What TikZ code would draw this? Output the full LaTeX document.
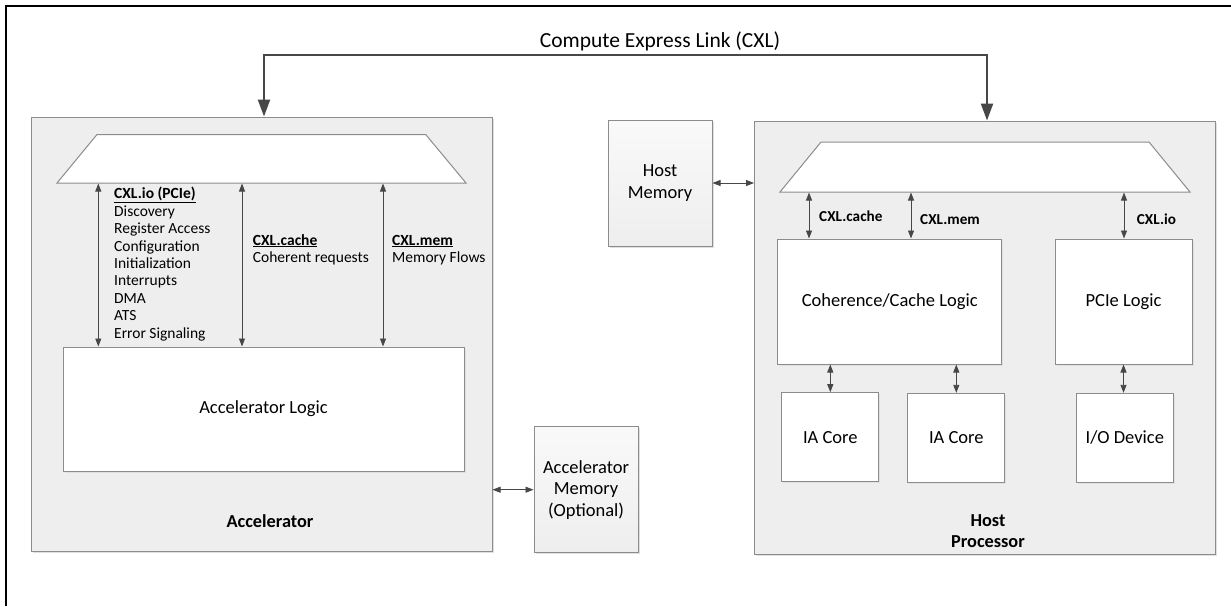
\documentclass[tikz,border=0pt]{standalone}
\usepackage{fontspec}
\setmainfont{Carlito}
\usetikzlibrary{arrows.meta,shadows}
\definecolor{cbox}{HTML}{EEEEEE}
\definecolor{cedge}{HTML}{8C8C8C}
\definecolor{carrow}{HTML}{474747}
\begin{document}
\begin{tikzpicture}[x=1pt,y=-1pt,
  shad/.style={general shadow={shadow xshift=1.5pt, shadow yshift=-1.5pt, fill=black!12}},
  cont/.style={draw=cedge, fill=cbox, line width=1pt, inner sep=0pt, shad},
  mem/.style={draw=cedge, line width=1pt, top color=cbox!35!white, bottom color=cbox, inner sep=0pt, align=center, font=\fontsize{18.5}{21.5}\selectfont, shad},
  blk/.style={draw=cedge, fill=white, line width=1pt, inner sep=0pt, font=\fontsize{18.5}{21.5}\selectfont, shad},
  trap/.style={draw=cedge, fill=white, line width=1pt},
  dbl/.style={draw=carrow, line width=0.9pt, {Triangle[length=8pt,width=6pt]}-{Triangle[length=8pt,width=6pt]}},
  big/.style={draw=carrow, line width=2.3pt, {Triangle[length=17pt,width=12pt]}-{Triangle[length=17pt,width=12pt]}},
  lst/.style={inner sep=0pt, anchor=base west, font=\fontsize{15.5}{17.5}\selectfont},
  lbl/.style={inner sep=0pt, anchor=base west, font=\fontsize{15.2}{17.5}\selectfont\bfseries},
  ttl/.style={inner sep=0pt, align=center, font=\fontsize{18.3}{21.7}\selectfont\bfseries}
]
\useasboundingbox (0,0) rectangle (1231,606);
\fill[white] (0,0) rectangle (1231,606);
% outer frame
\draw[line width=1.8pt] (6,606) -- (6,6) -- (1231,6);

% title of link
\node[inner sep=0pt, anchor=base, font=\fontsize{21.5}{25}\selectfont] (cxlt) at (660,47.7) {Compute Express Link (CXL)};

% containers
\node[cont, minimum width=461, minimum height=434] (acc) at (261.5,334) {};
\node[cont, minimum width=461, minimum height=433] (host) at (985,337.5) {};
\node[mem, minimum width=104, minimum height=126] (hostmem) at (660,183) {Host\\Memory};
\node[mem, minimum width=104, minimum height=126] (accmem) at (586,489.7) {Accelerator\\Memory\\(Optional)};

% accelerator internals
\draw[trap] (57,183) -- (97,134.5) -- (425.7,134.5) -- (466,183) -- cycle;
\node[blk, minimum width=401, minimum height=124] (acclogic) at (263.5,409) {Accelerator Logic};
\node[ttl] (acct) at (270,521) {Accelerator};

\coordinate (a1) at (98.3,183.5);
\coordinate (a2) at (242,183.5);
\coordinate (a3) at (383,183.5);
\draw[dbl] (a1) -- (acclogic.north -| a1);
\draw[dbl] (a2) -- (acclogic.north -| a2);
\draw[dbl] (a3) -- (acclogic.north -| a3);

\node[lst] (io0) at (114,198.7) {\textbf{\underline{CXL.io (PCIe)}}};
\foreach \t [count=\i] in {Discovery,Register Access,Configuration,Initialization,Interrupts,DMA,ATS,Error Signaling}
  \node[lst] (io\i) at (114,198.7+17.45*\i) {\t};
\node[lst] (cachet) at (252.7,245) {\textbf{\underline{CXL.cache}}};
\node[lst] (cached) at (252.7,262) {Coherent requests};
\node[lst] (memt) at (392,245) {\textbf{\underline{CXL.mem}}};
\node[lst] (memd) at (392,262) {Memory Flows};

% host internals
\draw[trap] (780,192) -- (821,142) -- (1149,142) -- (1190,192) -- cycle;
\node[blk, minimum width=224, minimum height=125] (coh) at (889.7,301.5) {Coherence/Cache Logic};
\node[blk, minimum width=137, minimum height=125] (pcie) at (1123.5,301.5) {PCIe Logic};
\node[blk, minimum width=97, minimum height=89] (ia1) at (830.3,437.2) {IA Core};
\node[blk, minimum width=97, minimum height=89] (ia2) at (956.3,437.8) {IA Core};
\node[blk, minimum width=97, minimum height=89] (iod) at (1124.8,437.8) {I/O Device};
\node[ttl] (hostt) at (988,531) {Host\\Processor};

\coordinate (h1) at (809,192.5);
\coordinate (h2) at (911,192.5);
\coordinate (h3) at (1124,192.5);
\draw[dbl] (h1) -- (coh.north -| h1);
\draw[dbl] (h2) -- (coh.north -| h2);
\draw[dbl] (h3) -- (pcie.north -| h3);
\node[lbl] (hl1) at (819,221.7) {CXL.cache};
\node[lbl] (hl2) at (920,224) {CXL.mem};
\node[lbl] (hl3) at (1136.7,224) {CXL.io};

\draw[dbl] (coh.south -| ia1) -- (ia1.north);
\draw[dbl] (coh.south -| ia2) -- (ia2.north);
\draw[dbl] (pcie.south) -- (pcie.south |- iod.north);

% memory links
\draw[dbl] (hostmem.east) -- (hostmem.east -| host.west);
\draw[dbl] (accmem.west -| acc.east) -- (accmem.west);

% CXL link
\coordinate (cl) at (264,55);
\coordinate (cr) at (987,55);
\draw[big] (acc.north -| cl) -- (cl) -- (cr) -- (host.north -| cr);
\end{tikzpicture}
\end{document}
